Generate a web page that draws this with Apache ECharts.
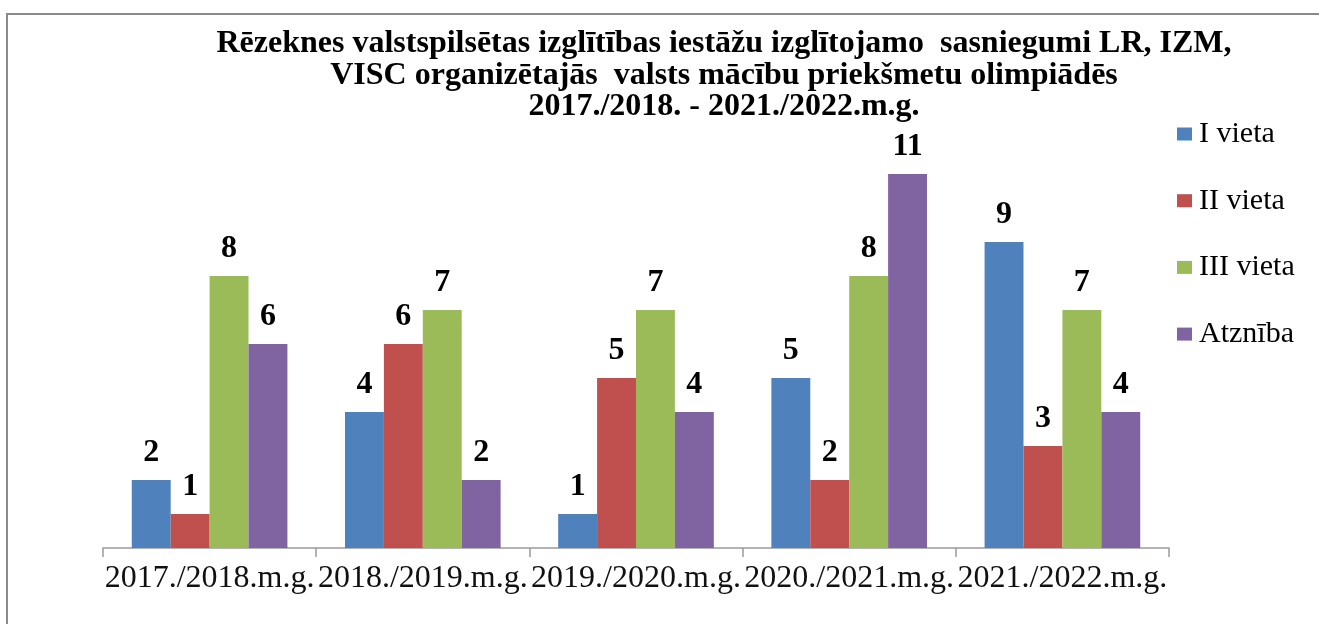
<!DOCTYPE html>
<html>
<head>
<meta charset="utf-8">
<script src="https://cdn.jsdelivr.net/npm/echarts@6/dist/echarts.min.js"></script>
<style>
html,body{margin:0;padding:0;background:#fff;}
#chart{width:1319px;height:624px;}
</style>
</head>
<body>
<div id="chart"></div>
<script>
var categories = ['2017./2018.m.g.', '2018./2019.m.g.', '2019./2020.m.g.', '2020./2021.m.g.', '2021./2022.m.g.'];
var seriesNames = ['I vieta', 'II vieta', 'III vieta', 'Atzn\u012Bba'];
var vieta1 = [2, 4, 1, 5, 9];
var vieta2 = [1, 6, 5, 2, 3];
var vieta3 = [8, 7, 7, 8, 7];
var atzniba = [6, 2, 4, 11, 4];
var colors = ['#4F81BD', '#C0504D', '#9BBB59', '#8064A2'];
var titleText = 'R\u0113zeknes valstspils\u0113tas izgl\u012Bt\u012Bbas iest\u0101\u017Eu izgl\u012Btojamo  sasniegumi LR, IZM,\nVISC organiz\u0113taj\u0101s  valsts m\u0101c\u012Bbu priek\u0161metu olimpi\u0101d\u0113s\n2017./2018. - 2021./2022.m.g.';

var font = '"Liberation Serif", "Times New Roman", serif';
var allData = [vieta1, vieta2, vieta3, atzniba];

var chart = echarts.init(document.getElementById('chart'), null, {renderer: 'canvas'});
chart.setOption({
  backgroundColor: '#ffffff',
  animation: false,
  title: {
    text: titleText,
    left: 719,
    top: 23,
    textAlign: 'center',
    textStyle: {
      fontFamily: font,
      fontWeight: 'bold',
      fontSize: 32,
      lineHeight: 31.5,
      color: '#000'
    }
  },
  legend: {
    orient: 'vertical',
    left: 1172,
    top: 114,
    itemWidth: 15,
    itemHeight: 13,
    itemGap: 36.7,
    icon: 'rect',
    data: seriesNames,
    textStyle: {
      fontFamily: font,
      fontSize: 30,
      lineHeight: 29,
      color: '#000',
      padding: [0, 0, 0, 2]
    }
  },
  grid: {
    left: 103,
    right: 150,
    top: 174,
    bottom: 76
  },
  xAxis: {
    type: 'category',
    data: categories,
    axisLine: {lineStyle: {color: '#9a9a9a', width: 1.5}},
    axisTick: {show: true, length: 9, lineStyle: {color: '#9a9a9a', width: 1.5}},
    axisLabel: {
      interval: 0,
      margin: 15,
      fontFamily: font,
      fontSize: 32,
      color: '#111'
    }
  },
  yAxis: {
    type: 'value',
    min: 0,
    max: 11,
    show: false,
    splitLine: {show: false}
  },
  series: seriesNames.map(function (name, i) {
    return {
      name: name,
      type: 'bar',
      data: allData[i],
      barGap: '0%',
      barCategoryGap: '27%',
      itemStyle: {color: colors[i]},
      label: {
        show: true,
        position: 'top',
        distance: 11,
        fontFamily: font,
        fontWeight: 'bold',
        fontSize: 32,
        color: '#000'
      }
    };
  }),
  graphic: [
    {type: 'line', shape: {x1: 7, y1: 14, x2: 1319, y2: 14}, style: {stroke: '#8a8a8a', lineWidth: 2}, silent: true},
    {type: 'line', shape: {x1: 7, y1: 13, x2: 7, y2: 624}, style: {stroke: '#8a8a8a', lineWidth: 2}, silent: true}
  ]
});
</script>
</body>
</html>
